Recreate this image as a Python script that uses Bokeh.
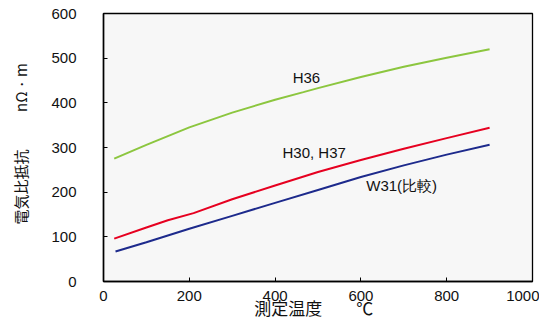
from bokeh.plotting import figure
from bokeh.models import Label, FixedTicker, Range1d
from bokeh.embed import file_html
from bokeh.resources import INLINE

# Data (temperature in C, resistivity in nOhm*m)
h36_x = [25, 100, 200, 300, 400, 466, 500, 600, 700, 800, 900]
h36_y = [275, 306, 345, 378, 407, 424, 433, 458, 481, 501, 520]

h30_x = [25, 100, 150, 210, 300, 400, 500, 600, 700, 800, 900]
h30_y = [96, 121, 137, 153, 184, 215, 245, 272, 297, 321, 344]

w31_x = [28, 100, 200, 300, 400, 500, 600, 700, 800, 900]
w31_y = [67, 88, 118, 147, 176, 205, 234, 260, 284, 306]

x_ticks = [0, 200, 400, 600, 800, 1000]
y_ticks = [0, 100, 200, 300, 400, 500, 600]

series_labels = ["H36", "H30, H37", "W31(比較)"]
label_pos_x = [473, 491, 695]
label_pos_y = [457, 289, 215]

x_title = "測定温度　　℃\u2002"
y_title = "\u2002電気比抵抗\u3000\u3000\u2002nΩ\u2009·\u2009m"

p = figure(width=539, height=323, output_backend="svg", toolbar_location=None,
           x_range=Range1d(0, 1000), y_range=Range1d(0, 600),
           min_border_left=103, min_border_right=7, min_border_top=13, min_border_bottom=42)

p.background_fill_color = "#f7f7f7"
p.border_fill_color = "white"
p.outline_line_color = "black"
p.outline_line_width = 1.3
p.xgrid.visible = False
p.ygrid.visible = False

tick_font = "Liberation Sans"
for ax in (p.xaxis[0], p.yaxis[0]):
    ax.axis_line_color = "black"
    ax.axis_line_width = 1.5
    ax.major_tick_in = 4
    ax.major_tick_out = 0
    ax.major_tick_line_color = "black"
    ax.minor_tick_line_color = None
    ax.major_label_text_font = tick_font
    ax.major_label_text_font_size = "15px"
    ax.major_label_text_color = "#111111"
    ax.axis_label_text_font = "Noto Sans CJK JP"
    ax.axis_label_text_font_style = "normal"
    ax.axis_label_text_color = "#111111"

p.xaxis[0].ticker = FixedTicker(ticks=x_ticks)
p.yaxis[0].ticker = FixedTicker(ticks=y_ticks)
p.xaxis[0].major_label_standoff = 9
p.yaxis[0].major_label_standoff = 27

p.yaxis[0].axis_label = y_title
p.yaxis[0].axis_label_text_font_size = "15px"
p.yaxis[0].axis_label_standoff = 17

p.xaxis[0].axis_label = x_title
p.xaxis[0].axis_label_text_font_size = "17px"
p.xaxis[0].axis_label_standoff = -9

p.line(h36_x, h36_y, line_color="#8cc63f", line_width=2)
p.line(h30_x, h30_y, line_color="#e60020", line_width=2)
p.line(w31_x, w31_y, line_color="#1d2a8c", line_width=2)

for t, lx, ly in zip(series_labels, label_pos_x, label_pos_y):
    p.add_layout(Label(x=lx, y=ly, text=t, text_align="center", text_baseline="middle",
                       text_font="Liberation Sans", text_font_size="15px",
                       text_color="#111111"))

open("out.html", "w").write(file_html(p, INLINE))
